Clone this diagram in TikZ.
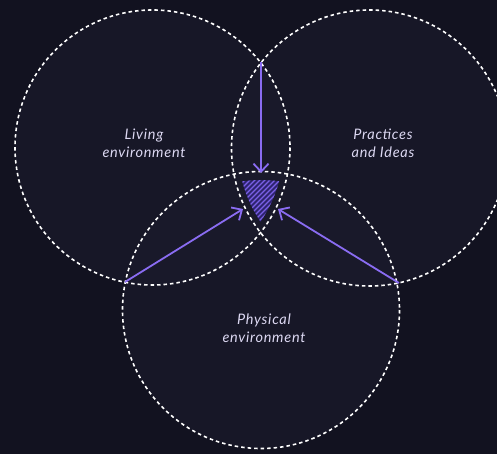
\documentclass[tikz,border=0pt]{standalone}
\usepackage{fontspec}
\setmainfont{Lato}
\newfontfamily\lblfont[LetterSpace=5]{Lato}
\usetikzlibrary{arrows.meta}
\definecolor{bg}{HTML}{121220}
\definecolor{circfill}{HTML}{1B1B2C}
\definecolor{arrowc}{HTML}{8A6CF2}
\definecolor{hatchbg}{HTML}{2E2470}
\definecolor{hatchln}{HTML}{7A60E6}
\definecolor{labelc}{HTML}{DCD8F2}
\tikzset{
  ring/.style={draw=white, line width=1.6pt, dash pattern=on 3.5pt off 3pt},
  flow/.style={draw=arrowc, line width=1.8pt, -{Straight Barb[length=8pt,width=15pt,line width=1.8pt]}},
  lbl/.style={text=labelc, font=\lblfont\itshape\fontsize{14.5}{18}\selectfont, align=center, inner sep=0pt},
}
\begin{document}
\begin{tikzpicture}[x=1pt,y=-1pt]
\fill[bg] (0,0) rectangle (497,454);
\useasboundingbox (0,0) rectangle (497,454);
\coordinate (cL) at (152.5,147.5);
\coordinate (cR) at (369.5,148);
\coordinate (cB) at (261,310);
\fill[circfill, opacity=0.6] (cL) circle[radius=137.5];
\fill[circfill, opacity=0.6] (cR) circle[radius=138];
\fill[circfill, opacity=0.6] (cB) circle[radius=138.5];
% hatched core
\begin{scope}
\clip (cL) circle[radius=131];
\clip (cR) circle[radius=131.5];
\clip (cB) circle[radius=130];
\fill[hatchbg] (200,150) rectangle (320,250);
\foreach \i in {100,105,...,340} \draw[hatchln, line width=1.4pt] (\i,260) -- ++(140,-140);
\end{scope}
\draw[ring] (cL) circle[radius=137.5];
\draw[ring] (cR) circle[radius=138];
\draw[ring] (cB) circle[radius=138.5];
\coordinate (pT) at (261,62);
\coordinate (pL) at (125,282);
\coordinate (pR) at (399,283);
\coordinate (tT) at (261,173);
\coordinate (tL) at (243,209);
\coordinate (tR) at (278,209);
\draw[flow] (pT) -- (tT);
\draw[flow] (pL) -- (tL);
\draw[flow] (pR) -- (tR);
\node[lbl] (living) at (144,143) {Living\\environment};
\node[lbl] (practices) at (383,143) {Practices\\and Ideas};
\node[lbl] (physical) at (264,328) {Physical\\environment};
\end{tikzpicture}
\end{document}
